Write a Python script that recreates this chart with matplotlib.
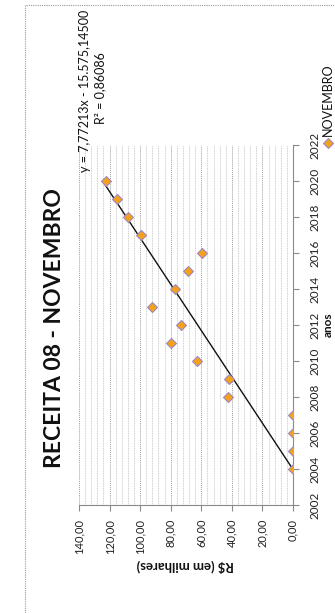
import matplotlib
matplotlib.use("Agg")
import matplotlib.pyplot as plt
import numpy as np
from matplotlib.patches import Rectangle
from matplotlib.ticker import FuncFormatter, MultipleLocator

plt.rcParams['font.family'] = ['Lato', 'DejaVu Sans']

years = [2004, 2005, 2006, 2007, 2008, 2009, 2010, 2011, 2012,
         2013, 2014, 2015, 2016, 2017, 2018, 2019, 2020]
values = [0.0, 0.0, 0.0, 0.0, 42.5, 41.9, 62.8, 80.0, 73.3,
          92.2, 77.2, 68.7, 59.5, 99.4, 107.9, 115.1, 122.3]
trend_slope = 7.77213
trend_intercept = -15575.145
title = "RECEITA 08 - NOVEMBRO"
eq_text = "y = 7,77213x - 15.575,14500"
r2_text = "R² = 0,86086"
series_name = "NOVEMBRO"
xlabel = "anos"
ylabel = "R$ (em milhares)"

W, H = 335, 613
fig = plt.figure(figsize=(W / 100, H / 100), dpi=100)
fig.patch.set_facecolor('white')

# outer chart border (dotted)
fig.patches.append(Rectangle((25 / W, -0.1), 1.2, 1 - 5 / H + 0.1, transform=fig.transFigure,
                             fill=False, edgecolor='#9a9a9a', linewidth=0.8,
                             linestyle=(0, (1, 1))))

# Rotated chart: values run horizontally (right to left), years vertically
ax = fig.add_axes([79 / W, 1 - 505 / H, (293 - 79) / W, (505 - 145) / H])
ax.set_xlim(140, 0)
ax.set_ylim(2002, 2022)

ax.xaxis.set_major_locator(MultipleLocator(20))
ax.xaxis.set_minor_locator(MultipleLocator(4))
ax.yaxis.set_major_locator(MultipleLocator(2))
ax.grid(which='major', axis='x', color='#a0a0a0', linestyle=(0, (1, 1)), linewidth=0.7)
ax.grid(which='minor', axis='x', color='#bdbdbd', linestyle=(0, (1, 1)), linewidth=0.6)
ax.set_axisbelow(True)

for s in ['top', 'left']:
    ax.spines[s].set_visible(False)
ax.spines['bottom'].set_color('#8a8a8a')
ax.spines['right'].set_color('#8a8a8a')
ax.spines['bottom'].set_linewidth(0.8)
ax.spines['right'].set_linewidth(0.8)

ax.yaxis.tick_right()
ax.xaxis.set_major_formatter(FuncFormatter(lambda v, p: f"{v:.2f}".replace('.', ',')))
ax.tick_params(axis='x', which='major', labelrotation=90, labelsize=8, length=4,
               color='#8a8a8a', pad=6, labelcolor='#222222')
ax.tick_params(axis='x', which='minor', length=0)
ax.tick_params(axis='y', which='major', labelrotation=90, labelsize=8.5, length=4,
               color='#8a8a8a', pad=8, labelcolor='#222222')
for lab in ax.get_yticklabels():
    lab.set_verticalalignment('center')

# trendline
tx = np.array([years[0], years[-1]], dtype=float)
ty = trend_slope * tx + trend_intercept
ax.plot(ty, tx, color='#111111', linewidth=1.0, zorder=3)

# points
ax.plot(values, years, linestyle='none', marker='D', markersize=5.5,
        markerfacecolor='#f5a11a', markeredgecolor='#9b8ac4', markeredgewidth=0.8, zorder=4)

# texts
fig.text(55 / W, 1 - 328 / H, title, rotation=90, ha='center', va='center',
         fontsize=16.5, fontweight='bold', color='#111111')
fig.text(185 / W, 1 - 566 / H, ylabel, rotation=180, ha='center', va='center',
         fontsize=9.5, fontweight='bold', color='#111111')
fig.text(328 / W, 1 - 325 / H, xlabel, rotation=90, ha='center', va='center',
         fontsize=8.5, fontweight='bold', color='#111111')
fig.text(85 / W, 1 - 91 / H, eq_text, rotation=90, ha='center', va='center',
         fontsize=9, color='#111111')
fig.text(100 / W, 1 - 88 / H, r2_text, rotation=90, ha='center', va='center',
         fontsize=9, color='#111111')

# legend
lx, ly = 328 / W, 1 - 143 / H
fig.lines.append(plt.Line2D([lx], [ly], transform=fig.transFigure, marker='D', markersize=5.5,
                            markerfacecolor='#f5a11a', markeredgecolor='#9b8ac4',
                            markeredgewidth=0.8, linestyle='none'))
fig.text(328 / W, 1 - 100 / H, series_name, rotation=90, ha='center', va='center',
         fontsize=9, color='#111111')

fig.savefig('out.png', dpi=100, facecolor='white')
